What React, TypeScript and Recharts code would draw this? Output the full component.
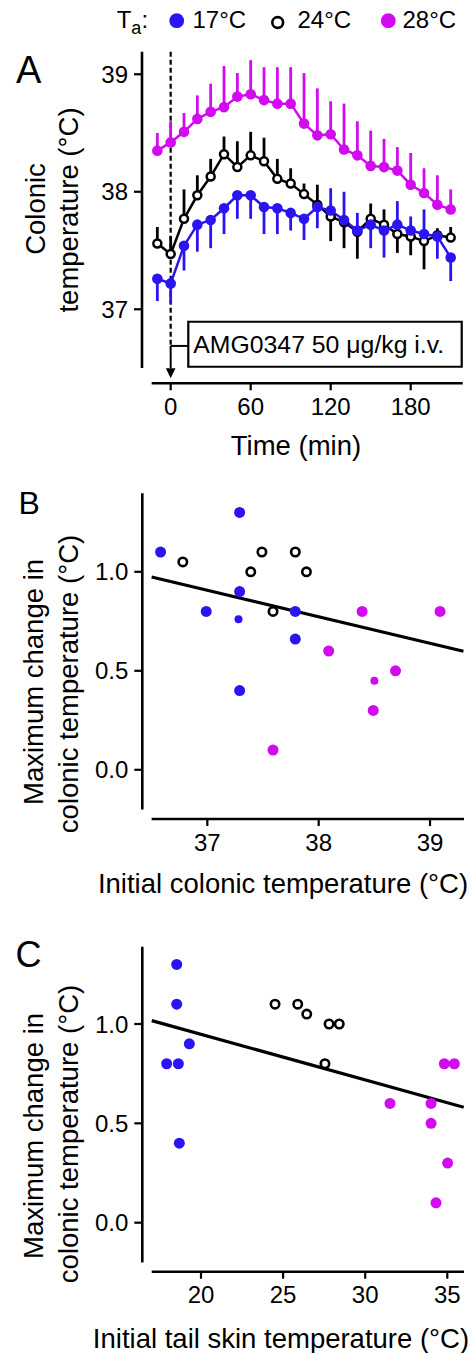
import React from 'react';
import {
  ComposedChart,
  Line,
  XAxis,
  YAxis,
  ErrorBar,
  ReferenceLine,
  ReferenceArea,
  ScatterChart,
  Scatter,
} from 'recharts';

const BLUE = '#2B14F2';
const PINK = '#D20AF0';
const FONT = '"Liberation Sans", Arial, Helvetica, sans-serif';

// ---------- Panel A : time course ----------
const times = [-10, 0, 10, 20, 30, 40, 50, 60, 70, 80, 90, 100, 110, 120, 130, 140, 150, 160, 170, 180, 190, 200, 210];
const mean17 = [37.26, 37.22, 37.54, 37.72, 37.76, 37.86, 37.97, 37.97, 37.87, 37.86, 37.82, 37.77, 37.87, 37.84, 37.76, 37.67, 37.72, 37.67, 37.72, 37.67, 37.64, 37.62, 37.44];
const sem17 = [0.19, 0.17, 0.21, 0.23, 0.24, 0.22, 0.2, 0.2, 0.23, 0.22, 0.15, 0.18, 0.18, 0.19, 0.24, 0.15, 0.2, 0.23, 0.2, 0.12, 0.21, 0.19, 0.2];
const side17 = ['d', 'd', 'd', 'd', 'd', 'd', 'd', 'd', 'd', 'd', 'd', 'd', 'd', 'u', 'u', 'u', 'd', 'd', 'u', 'u', 'u', 'd', 'd'];
const mean24 = [37.56, 37.47, 37.77, 37.97, 38.13, 38.32, 38.21, 38.31, 38.26, 38.11, 38.07, 37.98, 37.89, 37.79, 37.74, 37.66, 37.77, 37.72, 37.64, 37.62, 37.58, 37.63, 37.61];
const sem24 = [0.14, 0.15, 0.25, 0.17, 0.15, 0.15, 0.22, 0.2, 0.2, 0.17, 0.13, 0.09, 0.17, 0.21, 0.22, 0.23, 0.13, 0.13, 0.16, 0.16, 0.24, 0.06, 0.09];
const side24 = ['u', 'u', 'u', 'u', 'u', 'u', 'u', 'u', 'u', 'u', 'u', 'u', 'u', 'd', 'd', 'd', 'u', 'u', 'd', 'd', 'd', 'u', 'u'];
const mean28 = [38.35, 38.42, 38.51, 38.62, 38.68, 38.72, 38.81, 38.83, 38.78, 38.75, 38.75, 38.58, 38.48, 38.49, 38.36, 38.31, 38.22, 38.21, 38.18, 38.06, 37.99, 37.89, 37.85];
const sem28 = [0.15, 0.18, 0.16, 0.2, 0.24, 0.35, 0.2, 0.29, 0.28, 0.31, 0.31, 0.43, 0.4, 0.28, 0.39, 0.29, 0.3, 0.24, 0.2, 0.27, 0.21, 0.25, 0.17];
const timeTicks = [0, 60, 120, 180];
const tempTicks = [37, 38, 39];
const injectionLabel = 'AMG0347 50 \u03bcg/kg i.v.';

const oneSided = (sem: number, side: string) => (side === 'd' ? [sem, 0] : [0, sem]);
const rowsA = times.map((t, i) => ({
  t,
  m17: mean17[i],
  e17: oneSided(sem17[i], side17[i]),
  m24: mean24[i],
  e24: oneSided(sem24[i], side24[i]),
  m28: mean28[i],
  e28: oneSided(sem28[i], 'u'),
}));

// ---------- Panel B : initial colonic temperature ----------
const b17x = [36.58, 37.29, 37.29, 36.99, 37.79, 37.79, 37.29];
const b17y = [1.1, 1.3, 0.9, 0.8, 0.8, 0.66, 0.4];
const b17hiddenX = [37.28];
const b17hiddenY = [0.76];
const b24x = [36.78, 37.39, 37.49, 37.79, 37.89, 37.59];
const b24y = [1.05, 1.0, 1.1, 1.1, 1.0, 0.8];
const b28x = [38.39, 39.09, 38.09, 38.69, 38.49, 37.59];
const b28y = [0.8, 0.8, 0.6, 0.5, 0.3, 0.1];
const b28hiddenX = [38.5];
const b28hiddenY = [0.45];
const fitBx = [36.5, 39.3];
const fitBy = [0.974, 0.599];
const bXTicks = [37, 38, 39];
const changeTicks = [0, 0.5, 1.0];

// ---------- Panel C : initial tail skin temperature ----------
const c17x = [18.52, 18.52, 19.29, 17.91, 18.62, 18.68];
const c17y = [1.3, 1.1, 0.9, 0.8, 0.8, 0.4];
const c24x = [24.51, 25.89, 26.44, 27.8, 28.42, 27.55];
const c24y = [1.1, 1.1, 1.05, 1.0, 1.0, 0.8];
const c28x = [31.51, 34.01, 34.01, 34.82, 35.43, 35.02, 34.31];
const c28y = [0.6, 0.6, 0.5, 0.8, 0.8, 0.3, 0.1];
const fitCx = [17.0, 36.0];
const fitCy = [1.017, 0.581];
const cXTicks = [20, 25, 30, 35];

const legendItems = [
  { label: '17\u00b0C', kind: 'blue' },
  { label: '24\u00b0C', kind: 'open' },
  { label: '28\u00b0C', kind: 'pink' },
];

const pts = (xs: number[], ys: number[]) => xs.map((x, i) => ({ x, y: ys[i] }));

const tickStyle = { fill: '#000', fontSize: 24, fontFamily: FONT };
const tickLineStyle = { stroke: '#000', strokeWidth: 2.2 };

const filledDot = (color: string, r: number) => (p: any) => (
  <circle cx={p.cx} cy={p.cy} r={r} fill={color} stroke="none" />
);
const openDot = (r: number) => (p: any) => (
  <circle cx={p.cx} cy={p.cy} r={r} fill="#fff" stroke="#000" strokeWidth={2.6} />
);
const noDot = () => <g />;

const ArrowShape = (p: any) => {
  const { x1, y1, x2, y2 } = p;
  const head = 10;
  const hw = 4.8;
  return (
    <g>
      <line x1={x1} y1={y1} x2={x2} y2={y2 - head} stroke="#000" strokeWidth={2} />
      <path d={`M${x2 - hw},${y2 - head} L${x2 + hw},${y2 - head} L${x2},${y2} Z`} fill="#000" />
    </g>
  );
};

// Domains (chosen so plot frame matches the figure)
const A_X = [-21.5, 219];
const A_Y = [36.37, 39.192];
const B_X = [36.416, 39.305];
const B_Y = [-0.2485, 1.3965];
const C_X = [16.425, 36.017];
const C_Y = [-0.2466, 1.389];

function PanelA() {
  return (
    <ComposedChart
      width={475}
      height={470}
      data={rowsA}
      margin={{ top: 51.7, right: 12.3, bottom: 46.7, left: 82 }}
    >
      <XAxis
        type="number"
        dataKey="t"
        domain={A_X}
        allowDataOverflow
        ticks={timeTicks}
        interval={0}
        axisLine={false}
        tickLine={tickLineStyle}
        tickSize={7}
        tickMargin={7.5}
        height={40}
        tick={tickStyle}
      />
      <YAxis
        type="number"
        domain={A_Y}
        allowDataOverflow
        ticks={tempTicks}
        interval={0}
        axisLine={false}
        tickLine={tickLineStyle}
        tickSize={8}
        tickMargin={6}
        width={60}
        tick={tickStyle}
      />
      <ReferenceLine
        segment={[{ x: A_X[0], y: 36.5 }, { x: A_X[0], y: A_Y[1] }]}
        stroke="#000"
        strokeWidth={2.6}
        ifOverflow="visible"
      />
      <ReferenceLine
        segment={[{ x: -14.25, y: A_Y[0] }, { x: A_X[1], y: A_Y[0] }]}
        stroke="#000"
        strokeWidth={2.6}
        ifOverflow="visible"
      />
      <ReferenceLine
        segment={[{ x: 0, y: A_Y[1] }, { x: 0, y: 36.688 }]}
        stroke="#000"
        strokeWidth={2.2}
        strokeDasharray="5 3"
        ifOverflow="visible"
      />
      <ReferenceLine
        segment={[{ x: 0, y: 36.688 }, { x: 13.22, y: 36.688 }]}
        stroke="#000"
        strokeWidth={2}
        ifOverflow="visible"
      />
      <ReferenceLine
        segment={[{ x: 0, y: 36.688 }, { x: 0, y: 36.413 }]}
        stroke="#000"
        strokeWidth={2}
        ifOverflow="visible"
        shape={ArrowShape}
      />
      <ReferenceArea
        x1={13.22}
        x2={218.27}
        y1={36.511}
        y2={36.894}
        fill="#fff"
        fillOpacity={1}
        stroke="#000"
        strokeWidth={2.2}
        ifOverflow="visible"
        label={{
          value: injectionLabel,
          position: 'insideLeft',
          offset: 5,
          fill: '#000',
          fontSize: 24.8,
          fontFamily: FONT,
        }}
      />
      <Line
        dataKey="m24"
        type="linear"
        stroke="#000"
        strokeWidth={2.5}
        dot={{ r: 4, fill: '#fff', stroke: '#000', strokeWidth: 2.5 }}
        activeDot={false}
        isAnimationActive={false}
      >
        <ErrorBar dataKey="e24" width={0} stroke="#000" strokeWidth={2.8} direction="y" />
      </Line>
      <Line
        dataKey="m17"
        type="linear"
        stroke={BLUE}
        strokeWidth={2.5}
        dot={{ r: 5.3, fill: BLUE, stroke: BLUE, strokeWidth: 0 }}
        activeDot={false}
        isAnimationActive={false}
      >
        <ErrorBar dataKey="e17" width={0} stroke={BLUE} strokeWidth={2.8} direction="y" />
      </Line>
      <Line
        dataKey="m28"
        type="linear"
        stroke={PINK}
        strokeWidth={2.5}
        dot={{ r: 5.3, fill: PINK, stroke: PINK, strokeWidth: 0 }}
        activeDot={false}
        isAnimationActive={false}
      >
        <ErrorBar dataKey="e28" width={0} stroke={PINK} strokeWidth={2.8} direction="y" />
      </Line>
    </ComposedChart>
  );
}

function ScatterPanel(props: {
  height: number;
  top: number;
  bottom: number;
  xDomain: number[];
  yDomain: number[];
  xTicks: number[];
  xAxisStart: number;
  fitX: number[];
  fitY: number[];
  blue: { x: number; y: number }[];
  blueSmall: { x: number; y: number }[];
  open: { x: number; y: number }[];
  pink: { x: number; y: number }[];
  pinkSmall: { x: number; y: number }[];
}) {
  const { xDomain, yDomain } = props;
  return (
    <ScatterChart
      width={475}
      height={props.height}
      margin={{ top: props.top, right: 11, bottom: props.bottom, left: 82.3 }}
    >
      <XAxis
        type="number"
        dataKey="x"
        domain={xDomain}
        allowDataOverflow
        ticks={props.xTicks}
        interval={0}
        axisLine={false}
        tickLine={tickLineStyle}
        tickSize={7}
        tickMargin={7.5}
        height={40}
        tick={tickStyle}
      />
      <YAxis
        type="number"
        dataKey="y"
        domain={yDomain}
        allowDataOverflow
        ticks={changeTicks}
        interval={0}
        tickFormatter={(v: number) => v.toFixed(1)}
        axisLine={false}
        tickLine={tickLineStyle}
        tickSize={8}
        tickMargin={6}
        width={60}
        tick={tickStyle}
      />
      <ReferenceLine
        segment={[{ x: xDomain[0], y: -0.2 }, { x: xDomain[0], y: yDomain[1] }]}
        stroke="#000"
        strokeWidth={2.6}
        ifOverflow="visible"
      />
      <ReferenceLine
        segment={[{ x: props.xAxisStart, y: yDomain[0] }, { x: xDomain[1], y: yDomain[0] }]}
        stroke="#000"
        strokeWidth={2.6}
        ifOverflow="visible"
      />
      <Scatter
        data={pts(props.fitX, props.fitY)}
        line={{ stroke: '#000', strokeWidth: 3.2 }}
        shape={noDot}
        isAnimationActive={false}
      />
      <Scatter data={props.blue} shape={filledDot(BLUE, 5.5)} isAnimationActive={false} />
      <Scatter data={props.blueSmall} shape={filledDot(BLUE, 4)} isAnimationActive={false} />
      <Scatter data={props.open} shape={openDot(4.2)} isAnimationActive={false} />
      <Scatter data={props.pink} shape={filledDot(PINK, 5.5)} isAnimationActive={false} />
      <Scatter data={props.pinkSmall} shape={filledDot(PINK, 4)} isAnimationActive={false} />
    </ScatterChart>
  );
}

function Overlay() {
  const legendX = [176.7, 277.7, 388.3];
  const legendTextX = [192.5, 297.5, 402.5];
  return (
    <svg
      width={475}
      height={1353}
      style={{ position: 'absolute', left: 0, top: 0, pointerEvents: 'none' }}
      fontFamily={FONT}
    >
      {/* legend */}
      <text x={116.7} y={28.3} fontSize={24} fill="#000">
        T
        <tspan fontSize={18} dy={5.5}>a</tspan>
        <tspan dy={-5.5}>:</tspan>
      </text>
      {legendItems.map((it, i) => (
        <g key={it.label}>
          {it.kind === 'open' ? (
            <circle cx={legendX[i]} cy={22.5} r={5.4} fill="#fff" stroke="#000" strokeWidth={2.6} />
          ) : (
            <circle cx={legendX[i]} cy={20.7} r={7.4} fill={it.kind === 'blue' ? BLUE : PINK} />
          )}
          <text x={legendTextX[i]} y={28.3} fontSize={24} fill="#000">
            {it.label}
          </text>
        </g>
      ))}

      {/* panel letters */}
      <text x={16} y={82.7} fontSize={38} fill="#000">A</text>
      <text x={18.4} y={514} fontSize={32} fill="#000">B</text>
      <text x={15.5} y={966.5} fontSize={36} fill="#000">C</text>

      {/* Panel A titles */}
      <text x={45} y={209} fontSize={27.5} fill="#000" textAnchor="middle" transform="rotate(-90 45 209)">
        Colonic
      </text>
      <text x={78} y={210} fontSize={27.5} fill="#000" textAnchor="middle" transform="rotate(-90 78 210)">
        temperature (°C)
      </text>
      <text x={296} y={455.3} fontSize={27.5} fill="#000" textAnchor="middle">
        Time (min)
      </text>

      {/* Panel B titles */}
      <text x={42.7} y={682} fontSize={27.5} fill="#000" textAnchor="middle" transform="rotate(-90 42.7 682)">
        Maximum change in
      </text>
      <text x={78.3} y={684} fontSize={27.5} fill="#000" textAnchor="middle" transform="rotate(-90 78.3 684)">
        colonic temperature (°C)
      </text>
      <text x={283} y={892.7} fontSize={27.5} fill="#000" textAnchor="middle">
        Initial colonic temperature (°C)
      </text>

      {/* Panel C titles */}
      <text x={42.7} y={1136} fontSize={27.5} fill="#000" textAnchor="middle" transform="rotate(-90 42.7 1136)">
        Maximum change in
      </text>
      <text x={78.3} y={1134} fontSize={27.5} fill="#000" textAnchor="middle" transform="rotate(-90 78.3 1134)">
        colonic temperature (°C)
      </text>
      <text x={281} y={1347.6} fontSize={27.5} fill="#000" textAnchor="middle">
        Initial tail skin temperature (°C)
      </text>
    </svg>
  );
}

export default function App() {
  return (
    <div
      style={{
        position: 'absolute',
        left: 0,
        top: 0,
        width: 475,
        height: 1353,
        background: '#fff',
        fontFamily: FONT,
        overflow: 'hidden',
      }}
    >
      <div style={{ position: 'absolute', left: 0, top: 0 }}>
        <PanelA />
      </div>
      <div style={{ position: 'absolute', left: 0, top: 470 }}>
        <ScatterPanel
          height={440}
          top={23.3}
          bottom={51}
          xDomain={B_X}
          yDomain={B_Y}
          xTicks={bXTicks}
          xAxisStart={36.5}
          fitX={fitBx}
          fitY={fitBy}
          blue={pts(b17x, b17y)}
          blueSmall={pts(b17hiddenX, b17hiddenY)}
          open={pts(b24x, b24y)}
          pink={pts(b28x, b28y)}
          pinkSmall={pts(b28hiddenX, b28hiddenY)}
        />
      </div>
      <div style={{ position: 'absolute', left: 0, top: 910 }}>
        <ScatterPanel
          height={443}
          top={36.7}
          bottom={41.3}
          xDomain={C_X}
          yDomain={C_Y}
          xTicks={cXTicks}
          xAxisStart={17.0}
          fitX={fitCx}
          fitY={fitCy}
          blue={pts(c17x, c17y)}
          blueSmall={[]}
          open={pts(c24x, c24y)}
          pink={pts(c28x, c28y)}
          pinkSmall={[]}
        />
      </div>
      <Overlay />
    </div>
  );
}
